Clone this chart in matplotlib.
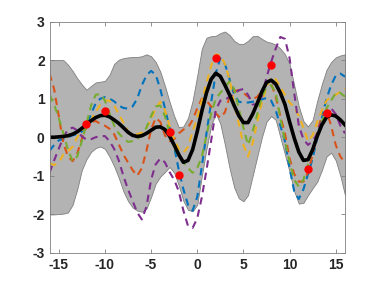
import numpy as np
import matplotlib
matplotlib.use("Agg")
import matplotlib.pyplot as plt

plt.rcParams['axes.unicode_minus'] = False

# observations (red dots)
obs_x = [-12, -10, -3, -2, 2, 8, 12, 14]
obs_y = [0.35, 0.69, 0.14, -0.97, 2.06, 1.86, -0.81, 0.64]

# every curve below every 0.5 from -16 to 16
xg = np.arange(-16, 16.01, 0.5)

mean = [0.00, 0.00, 0.01, 0.02, 0.04, 0.08, 0.14, 0.23, 0.33, 0.43, 0.51, 0.56, 0.57,
        0.53, 0.45, 0.36, 0.25, 0.13, 0.05, 0.02, 0.04, 0.10, 0.18, 0.26, 0.27, 0.20,
        0.03, -0.20, -0.45, -0.65, -0.60, -0.32, 0.15, 0.68, 1.15, 1.50, 1.66, 1.58,
        1.35, 1.10, 0.82, 0.56, 0.38, 0.38, 0.60, 0.88, 1.18, 1.42, 1.48, 1.38, 1.15,
        0.85, 0.40, -0.02, -0.38, -0.60, -0.58, -0.32, 0.03, 0.32, 0.52, 0.58, 0.55,
        0.45, 0.32]

upper = [2.00, 2.00, 2.00, 2.00, 1.88, 1.72, 1.53, 1.37, 1.23, 1.33, 1.42, 1.44, 1.46,
         1.62, 1.90, 2.01, 2.05, 2.07, 2.08, 2.08, 2.10, 2.15, 2.10, 1.95, 1.70, 1.33,
         0.92, 0.55, 0.26, 0.28, 0.50, 0.95, 1.60, 2.30, 2.58, 2.62, 2.63, 2.70, 2.74,
         2.65, 2.50, 2.42, 2.42, 2.50, 2.62, 2.63, 2.55, 2.48, 2.45, 2.40, 2.30, 2.15,
         1.90, 1.35, 0.80, 0.42, 0.28, 0.45, 0.95, 1.38, 1.75, 1.95, 2.07, 2.12, 2.15]

lower = [-2.00, -2.00, -1.99, -1.98, -1.95, -1.75, -1.35, -0.85, -0.57, -0.38, -0.28,
         -0.24, -0.30, -0.50, -0.75, -1.05, -1.40, -1.65, -1.82, -1.90, -1.93, -1.85,
         -1.55, -1.20, -1.02, -0.90, -0.77, -0.92, -1.25, -1.65, -1.88, -1.92, -1.75,
         -1.00, -0.30, 0.30, 0.62, 0.35, -0.20, -0.80, -1.30, -1.58, -1.66, -1.50,
         -1.00, -0.50, 0.00, 0.40, 0.55, 0.45, 0.00, -0.45, -0.90, -1.40, -1.72, -1.70,
         -1.50, -1.32, -1.15, -0.85, -0.50, -0.40, -0.60, -1.00, -1.50]

# posterior samples (dashed)
blue = [-0.35, -0.20, -0.08, -0.05, 0.00, 0.05, 0.08, 0.15, 0.30, 0.60, 0.88, 1.00, 1.04,
        1.00, 0.93, 0.82, 0.76, 0.74, 0.80, 1.00, 1.35, 1.60, 1.72, 1.62, 1.25, 0.75,
        0.25, -0.25, -0.85, -1.35, -1.75, -1.90, -1.55, -0.75, 0.10, 0.90, 1.65, 2.05,
        1.90, 1.50, 1.10, 0.92, 0.90, 0.90, 0.92, 0.95, 0.98, 1.02, 0.95, 0.70, 0.30,
        -0.10, -0.80, -1.40, -1.60, -1.35, -0.95, -0.55, 0.00, 0.50, 1.00, 1.35, 1.60,
        1.65, 1.57]
orange = [1.65, 1.25, 0.55, -0.15, -0.50, -0.62, -0.42, -0.05, 0.28, 0.40, 0.42, 0.35,
          0.30, 0.22, 0.08, -0.18, -0.45, -0.65, -0.85, -1.00, -0.80, -0.35, 0.20, 0.50,
          0.40, 0.05, -0.10, -0.05, 0.10, 0.20, 0.25, 0.45, 0.75, 1.00, 0.95, 0.80, 0.62,
          0.50, 0.65, 1.05, 1.20, 1.22, 1.15, 1.05, 0.98, 1.05, 1.20, 1.38, 1.40, 1.05,
          0.55, 0.10, -0.55, -0.95, -1.15, -1.15, -0.90, -0.45, 0.15, 0.55, 0.68, 0.30,
          -0.20, -0.50, -0.66]
yellow = [-0.68, -0.72, -0.65, -0.45, -0.36, -0.25, 0.00, 0.18, 0.30, 0.45, 0.65, 0.85,
          0.95, 0.95, 0.82, 0.60, 0.38, 0.15, 0.08, 0.08, 0.12, 0.25, 0.45, 0.75, 0.92,
          0.70, 0.30, -0.05, -0.30, -0.40, -0.25, 0.15, 0.50, 0.95, 1.40, 1.85, 2.15,
          2.12, 1.90, 1.50, 0.85, 0.35, -0.20, -0.50, -0.15, 0.40, 0.90, 1.30, 1.55, 1.50,
          1.30, 1.10, 0.90, 0.78, 0.55, 0.25, -0.10, 0.05, 0.40, 0.70, 0.95, 1.05, 1.10,
          1.18, 1.25]
purple = [-0.92, -0.60, -0.30, 0.00, 0.20, 0.25, 0.18, 0.02, -0.06, -0.05, 0.00, 0.03,
          0.03, -0.10, -0.30, -0.60, -1.00, -1.35, -1.65, -1.95, -2.13, -1.80, -1.10,
          -0.70, -0.55, -0.65, -0.90, -1.10, -1.40, -1.90, -2.30, -2.35, -2.10, -1.55,
          -0.85, -0.10, 0.70, 0.95, 0.97, 1.05, 1.12, 1.22, 1.25, 1.10, 0.85, 0.85, 1.06,
          1.55, 1.95, 2.30, 2.60, 2.55, 2.05, 1.15, 0.30, -0.05, -0.20, -0.10, 0.10, 0.45,
          0.70, 0.75, 0.60, 0.30, 0.10]
green = [1.10, 0.85, 0.50, 0.10, -0.32, -0.62, -0.50, -0.10, 0.35, 0.82, 1.10, 1.12,
         0.95, 0.62, 0.30, 0.10, -0.02, -0.12, -0.10, -0.05, 0.05, 0.25, 0.55, 0.80, 0.82,
         0.55, 0.10, -0.25, -0.50, -0.65, -0.80, -0.92, -0.80, -0.50, 0.05, 0.60, 1.00,
         1.15, 1.30, 1.45, 1.25, 0.75, 0.25, -0.20, 0.15, 0.60, 1.05, 1.30, 1.35, 1.15,
         0.50, -0.10, -0.65, -1.10, -1.28, -1.10, -0.70, -0.30, 0.05, 0.40, 0.75, 0.95,
         1.15, 1.15, 1.05]

samples = [(blue, '#0072BD'), (orange, '#D95319'), (yellow, '#EDB120'),
           (purple, '#7E2F8E'), (green, '#77AC30')]

fig = plt.figure(figsize=(3.82, 2.86), dpi=100)
ax = fig.add_axes([0.1296, 0.1154, 0.7735, 0.8094])

ax.fill_between(xg, lower, upper, facecolor='#b3b3b3', edgecolor='#7f7f7f', linewidth=0.6)
for ys, c in samples:
    ax.plot(xg, ys, color=c, lw=1.5, linestyle=(0, (3.5, 2.5)))
ax.plot(xg, mean, color='k', lw=2.6)
ax.plot(obs_x, obs_y, 'o', color='r', markersize=5)

ax.set_xlim(-16, 16)
ax.set_ylim(-3, 3)
ax.set_xticks([-15, -10, -5, 0, 5, 10, 15])
ax.set_yticks([-3, -2, -1, 0, 1, 2, 3])
ax.tick_params(direction='in', length=3, width=0.6, colors='#808080',
               labelcolor='#262626', labelsize=10, top=True, right=True)
for lab in ax.get_xticklabels() + ax.get_yticklabels():
    lab.set_fontweight('bold')
    lab.set_family('Liberation Sans')
for s in ax.spines.values():
    s.set_color('#808080')
    s.set_linewidth(0.6)

fig.savefig('out.png', dpi=100)
